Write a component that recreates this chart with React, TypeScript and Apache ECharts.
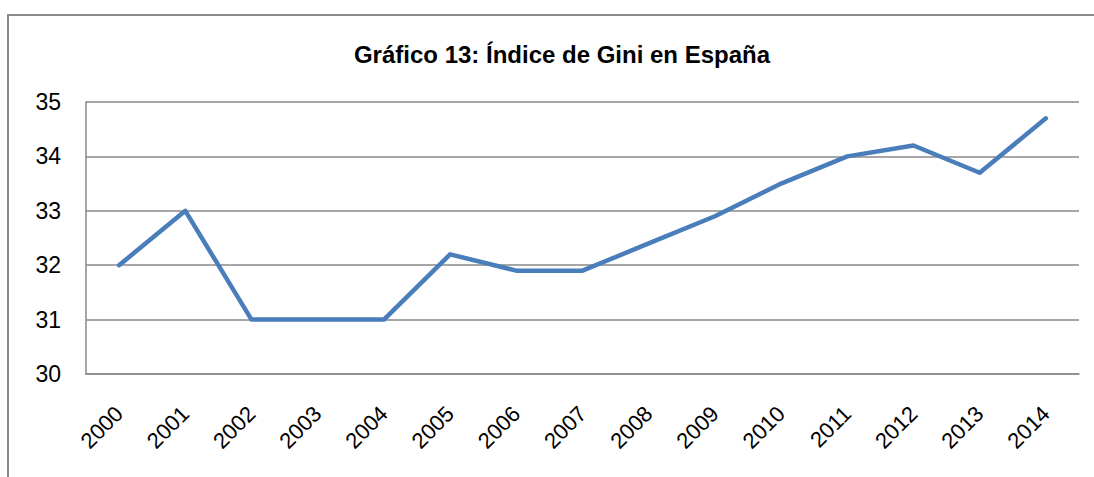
import React, { useEffect, useRef } from "react";
import * as echarts from "echarts";

const titleText = "Gráfico 13: Índice de Gini en España";
const years = ["2000", "2001", "2002", "2003", "2004", "2005", "2006", "2007", "2008", "2009", "2010", "2011", "2012", "2013", "2014"];
const gini = [32, 33, 31, 31, 31, 32.2, 31.9, 31.9, 32.4, 32.9, 33.5, 34.0, 34.2, 33.7, 34.7];

const FONT = "'Liberation Sans Narrow', 'Arial Narrow', 'Liberation Sans', Arial, sans-serif";
const GRAY = "#898989";

export default function App() {
  const ref = useRef<HTMLDivElement>(null);
  useEffect(() => {
    if (!ref.current) return;
    const chart = echarts.init(ref.current, undefined, { renderer: "svg" });
    chart.setOption({
      animation: false,
      backgroundColor: "#ffffff",
      title: {
        text: titleText,
        left: 557,
        textAlign: "center",
        top: 37,
        textStyle: { fontFamily: FONT, fontWeight: "bold", fontSize: 24, color: "#000" },
      },
      graphic: [
        {
          type: "polyline",
          shape: { points: [[8, 477], [8, 15], [1094, 15]] },
          style: { stroke: GRAY, lineWidth: 2, fill: "none" },
        },
      ],
      grid: { left: 86, right: 15, top: 102, bottom: 103, containLabel: false },
      xAxis: {
        type: "category",
        data: years,
        boundaryGap: true,
        axisLine: { show: true, lineStyle: { color: GRAY, width: 1.5 } },
        axisTick: { show: false },
        axisLabel: {
          rotate: 45,
          margin: 36,
          fontFamily: FONT,
          fontSize: 22,
          color: "#000",
          interval: 0,
        },
      },
      yAxis: {
        type: "value",
        min: 30,
        max: 35,
        interval: 1,
        axisLine: { show: true, lineStyle: { color: GRAY, width: 1.5 } },
        axisTick: { show: false },
        axisLabel: { margin: 25, fontFamily: FONT, fontSize: 23, color: "#000" },
        splitLine: { show: true, lineStyle: { color: GRAY, width: 1.5 } },
      },
      series: [
        {
          type: "line",
          data: gini,
          symbol: "none",
          lineStyle: { color: "#4a7ebb", width: 4.5, cap: "round", join: "round" },
        },
      ],
    });
    return () => chart.dispose();
  }, []);
  return (
    <div
      ref={ref}
      style={{ position: "fixed", left: 0, top: 0, width: 1094, height: 477 }}
    />
  );
}
